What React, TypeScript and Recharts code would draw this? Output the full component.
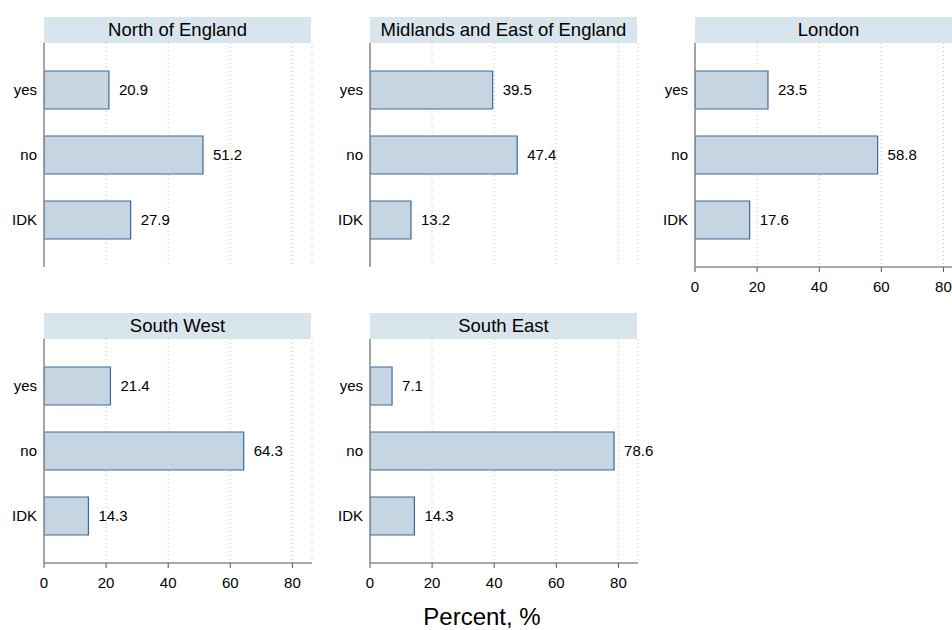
import React from 'react';
import { BarChart, Bar, XAxis, YAxis, CartesianGrid, LabelList } from 'recharts';

const answers = ['yes', 'no', 'IDK'];
const northValues = [20.9, 51.2, 27.9];
const midlandsValues = [39.5, 47.4, 13.2];
const londonValues = [23.5, 58.8, 17.6];
const southWestValues = [21.4, 64.3, 14.3];
const southEastValues = [7.1, 78.6, 14.3];
const xTicks = [0, 20, 40, 60, 80];

const FONT = '"Liberation Sans", Arial, sans-serif';
const HEADER_BG = '#d9e5ec';
const BAR_FILL = '#c6d5e2';
const BAR_STROKE = '#3b6a99';

const PLOT_W = 268;
const PLOT_H = 224;
const Y_W = 44;

const toRows = (values: number[]) => answers.map((a, i) => ({ answer: a, value: values[i] }));

interface PanelProps {
  title: string;
  values: number[];
  axisX: number;
  top: number;
  showXAxis: boolean;
}

const Panel: React.FC<PanelProps> = ({ title, values, axisX, top, showXAxis }) => {
  const data = toRows(values);
  const height = PLOT_H + (showXAxis ? 40 : 0);
  return (
    <>
      <div
        style={{
          position: 'absolute',
          left: axisX,
          top: top,
          width: PLOT_W - 1,
          height: 26,
          background: HEADER_BG,
          fontFamily: FONT,
          fontSize: 18.5,
          lineHeight: '26px',
          textAlign: 'center',
          color: '#000',
        }}
      >
        {title}
      </div>
      <div style={{ position: 'absolute', left: axisX - Y_W, top: top + 26 }}>
        <BarChart
          layout="vertical"
          width={Y_W + PLOT_W}
          height={height}
          data={data}
          margin={{ top: 0, right: 0, bottom: 0, left: 0 }}
          barCategoryGap={0}
        >
          <CartesianGrid horizontal={false} stroke="#c4c4c4" strokeDasharray="1 3" />
          <XAxis
            type="number"
            domain={[0, 86.3]}
            allowDataOverflow
            ticks={xTicks}
            hide={!showXAxis}
            height={40}
            axisLine={{ stroke: '#555', strokeWidth: 1.2 }}
            tickLine={{ stroke: '#555' }}
            tickSize={5}
            tickMargin={9}
            tick={{ fill: '#000', fontSize: 15, fontFamily: FONT }}
          />
          <YAxis
            type="category"
            dataKey="answer"
            width={Y_W}
            padding={{ top: 14, bottom: 15 }}
            axisLine={{ stroke: '#888', strokeWidth: 1.5 }}
            tickLine={false}
            tickSize={6}
            tickMargin={1}
            tick={{ fill: '#000', fontSize: 15, fontFamily: FONT }}
          />
          <Bar dataKey="value" fill={BAR_FILL} stroke={BAR_STROKE} strokeWidth={1.2} barSize={38} isAnimationActive={false}>
            <LabelList
              dataKey="value"
              position="right"
              offset={10}
              formatter={(v: any) => Number(v).toFixed(1)}
              style={{ fill: '#000', fontSize: 15, fontFamily: FONT }}
            />
          </Bar>
        </BarChart>
      </div>
    </>
  );
};

export default function App() {
  return (
    <div
      style={{
        position: 'absolute',
        left: 0,
        top: 0,
        width: 952,
        height: 630,
        overflow: 'hidden',
        background: '#fff',
      }}
    >
      <style>{'.recharts-surface { overflow: visible; }'}</style>
      <Panel title="North of England" values={northValues} axisX={44} top={17} showXAxis={false} />
      <Panel title="Midlands and East of England" values={midlandsValues} axisX={370} top={17} showXAxis={false} />
      <Panel title="London" values={londonValues} axisX={695} top={17} showXAxis={true} />
      <Panel title="South West" values={southWestValues} axisX={44} top={313} showXAxis={true} />
      <Panel title="South East" values={southEastValues} axisX={370} top={313} showXAxis={true} />
      <div
        style={{
          position: 'absolute',
          left: 382,
          width: 200,
          top: 605,
          textAlign: 'center',
          fontFamily: FONT,
          fontSize: 24,
          lineHeight: '24px',
          color: '#000',
        }}
      >
        Percent, %
      </div>
    </div>
  );
}
